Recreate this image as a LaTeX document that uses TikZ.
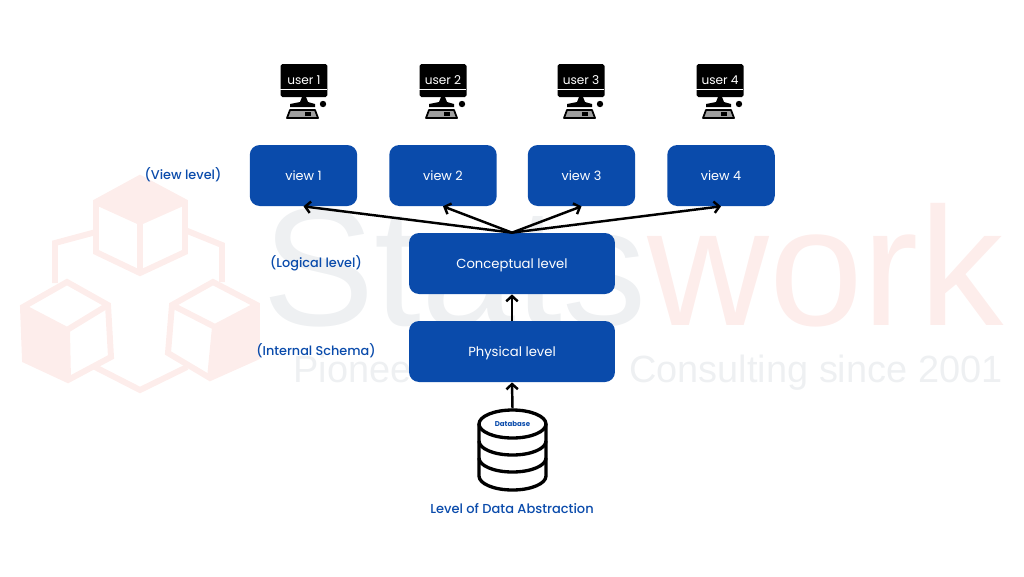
\documentclass[tikz,border=0pt]{standalone}
\usepackage{fontspec}
\setmainfont{Poppins}
\newfontfamily\markfont{Liberation Sans}
\newfontfamily\mediumfont{Poppins Medium}
\usetikzlibrary{arrows.meta}
\usetikzlibrary{shapes.geometric}
\definecolor{boxblue}{HTML}{0A4BAB}
\definecolor{markpink}{HTML}{FDEDEB}
\definecolor{markgray}{HTML}{EEF0F2}

\begin{document}
\begin{tikzpicture}[
    x=0.02cm,y=-0.02cm,
    >={Straight Barb[length=3pt,width=6.5pt]},
    viewbox/.style={rectangle,rounded corners=0.2cm,fill=boxblue,text=white,font=\fontsize{7.3}{9}\selectfont,minimum width=2.15cm,minimum height=1.22cm,text height=6.2pt,text depth=0pt},
    levelbox/.style={viewbox,minimum width=4.12cm,font=\fontsize{7.5}{9}\selectfont},
    side/.style={text=boxblue,font=\mediumfont\fontsize{7.3}{9}\selectfont},
    monitor/.style={rectangle,rounded corners=1pt,fill=black,text=white,font=\fontsize{6.9}{9}\selectfont,minimum width=0.94cm,minimum height=0.66cm,inner sep=0pt},
    link/.style={->,line width=1.4pt,black},
    cube/.style={draw=markpink,line width=3.4pt,line join=miter},
    disk/.style={line width=1.9pt,black},
]
    \useasboundingbox (0,0) rectangle (1024,576);

    % Watermark behind the diagram
    \fill[markpink] (140,178) -- (185,202) -- (140,222) -- (96,202) -- cycle;
    \fill[markpink] (23,307) -- (67,330) -- (68,380) -- (25,360) -- cycle;
    \fill[markpink] (257,305) -- (215,327) -- (210,378) -- (257,357) -- cycle;
    \draw[cube] (140,178) -- (185,202) -- (185,252) -- (140,273) -- (96,252) -- (96,202) -- cycle;
    \draw[cube] (96,202) -- (140,222) -- (185,202) (140,222) -- (140,273);
    \draw[cube] (67,282) -- (108,305) -- (111,357) -- (68,380) -- (25,360) -- (23,307) -- cycle;
    \draw[cube] (23,307) -- (67,330) -- (108,305) (67,330) -- (68,380);
    \draw[cube] (213,282) -- (257,305) -- (257,357) -- (210,378) -- (168,353) -- (172,305) -- cycle;
    \draw[cube] (172,305) -- (215,327) -- (257,305) (215,327) -- (210,378);
    \draw[cube] (96,232) -- (55,243) -- (55,283);
    \draw[cube] (185,230) -- (222,245) -- (222,282);
    \draw[cube] (95,367) -- (140,390) -- (187,367);
    \node[anchor=base west,inner sep=0pt,text=markgray,font=\markfont\fontsize{96}{96}\selectfont] (markstats) at (262,325) {Stats};
    \node[anchor=base west,inner sep=0pt,text=markpink,font=\markfont\fontsize{96}{96}\selectfont] (markwork) at (markstats.base east) {work};
    \node[anchor=base west,inner sep=0pt,text=markgray,font=\markfont\fontsize{21.6}{22}\selectfont] (markpio) at (293,382) {Pionee};
    \node[anchor=base east,inner sep=0pt,text=markgray,font=\markfont\fontsize{21.6}{22}\selectfont] (markcons) at (1003,382) {Consulting since 2001};

    % Users and their views
    \foreach \i/\x/\v in {1/304/303.5,2/443/443,3/581/581.5,4/720/721}{
        \node[monitor] (user\i) at (\x,80.5) {user \i};
        \draw[white,line width=0.4pt] ([yshift=-0.06cm]user\i.south west) ++(0,0.22cm) -- ++(0.94cm,0);
        \fill[black] (\x-2,97) -- (\x+2,97) -- (\x+4,102) -- (\x+11,104) -- (\x+11,107) -- (\x-14,107) -- (\x-14,104) -- (\x-4,102) -- cycle;
        \fill[black] (\x+19,104) circle (3.2);
        \draw[black,fill=gray!75,line width=1pt,line join=round] (\x-14,110) -- (\x+11,110) -- (\x+14,118) -- (\x-17,118) -- cycle;
        \fill[black] (\x+1,112) rectangle (\x+7,116);
        \node[viewbox] (view\i) at (\v,175.5) {view \i};
    }
    \node[side] (viewlabel) at (183,175) {(View level)};

    % Levels
    \node[levelbox] (conceptual) at (512,263.5) {Conceptual level};
    \node[levelbox] (physical) at (512,351.5) {Physical level};
    \node[side] (logicallabel) at (316,263) {(Logical level)};
    \node[side] (internallabel) at (316,351) {(Internal Schema)};

    % Database stack
    \draw[disk] (479,424) -- (479,476) arc[start angle=180,end angle=360,x radius=33.5,y radius=-14] -- (546,424);
    \draw[disk] (479,441) arc[start angle=180,end angle=360,x radius=33.5,y radius=-14];
    \draw[disk] (479,458) arc[start angle=180,end angle=360,x radius=33.5,y radius=-14];
    \node[ellipse,draw,line width=1.9pt,minimum width=1.34cm,minimum height=0.56cm,inner sep=0pt,text=boxblue,font=\fontsize{4}{5}\selectfont\bfseries] (db) at (512.5,424) {Database};
    \node[text=boxblue,font=\mediumfont\fontsize{7.4}{9}\selectfont] (title) at (512,509) {Level of Data Abstraction};

    % Arrows
    \foreach \i in {1,...,4}
        \draw[link] (conceptual.north) -- (view\i.south);
    \draw[link] (physical.north) -- (conceptual.south);
    \draw[link] (db.north) -- (physical.south);
\end{tikzpicture}
\end{document}
